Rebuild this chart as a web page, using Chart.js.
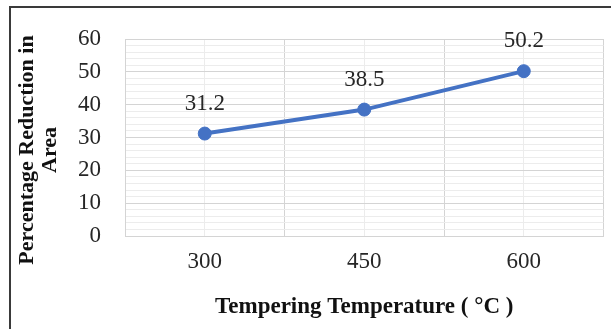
<!DOCTYPE html>
<html>
<head>
<meta charset="utf-8">
<script src="https://cdn.jsdelivr.net/npm/chart.js@4.4.0/dist/chart.umd.min.js"></script>
<style>
  html, body { margin: 0; padding: 0; background: #fff; overflow: hidden; }
  #wrap { position: relative; width: 611px; height: 329px; }
  #frame { position: absolute; left: 9px; top: 6px; width: 700px; height: 400px;
           border-left: 2px solid #3a3a3a; border-top: 2px solid #3a3a3a; pointer-events: none; }
  canvas { position: absolute; left: 0; top: 0; }
</style>
</head>
<body>
<div id="wrap">
  <canvas id="c" width="611" height="329"></canvas>
  <div id="frame"></div>
</div>
<script>
// Tempering temperatures (°C) and measured reduction in area (%)
const temperatures = [300, 450, 600];
const reductionInArea = [31.2, 38.5, 50.2];
const yTickLabels = [0, 10, 20, 30, 40, 50, 60];
const xAxisTitle = 'Tempering Temperature ( °C )';
const yAxisTitle = ['Percentage Reduction in', 'Area'];

const SERIF = '"Liberation Serif", "Times New Roman", serif';
const FONT_SIZE = 23;
const step = temperatures[1] - temperatures[0];
const Y_MINOR = 2;

// Value labels above each marker
const valueLabels = {
  id: 'valueLabels',
  afterDatasetsDraw(chart) {
    const ctx = chart.ctx;
    const meta = chart.getDatasetMeta(0);
    ctx.save();
    ctx.font = FONT_SIZE + 'px ' + SERIF;
    ctx.fillStyle = '#262626';
    ctx.textAlign = 'center';
    ctx.textBaseline = 'middle';
    meta.data.forEach((pt, i) => {
      ctx.fillText(String(reductionInArea[i]), pt.x, pt.y - 30);
    });
    ctx.restore();
  }
};

// Two-line rotated y-axis title
const yTitle = {
  id: 'yTitle',
  afterDraw(chart) {
    const ctx = chart.ctx;
    ctx.save();
    ctx.font = 'bold 22px ' + SERIF;
    ctx.fillStyle = '#111';
    ctx.textAlign = 'center';
    ctx.textBaseline = 'middle';
    const xs = [27, 50];
    yAxisTitle.forEach((line, i) => {
      ctx.save();
      ctx.translate(xs[i], 150);
      ctx.rotate(-Math.PI / 2);
      ctx.fillText(line, 0, 0);
      ctx.restore();
    });
    ctx.restore();
  }
};

new Chart(document.getElementById('c'), {
  type: 'line',
  data: {
    datasets: [{
      data: temperatures.map((t, i) => ({ x: t, y: reductionInArea[i] })),
      borderColor: '#4472C4',
      backgroundColor: '#4472C4',
      borderWidth: 4,
      pointRadius: 6.5,
      pointBorderWidth: 1,
      pointBackgroundColor: '#4472C4',
      pointBorderColor: '#4472C4',
      tension: 0
    }]
  },
  options: {
    responsive: false,
    animation: false,
    events: [],
    layout: { padding: { top: 39, right: 7, left: 0, bottom: 0 } },
    plugins: { legend: { display: false }, tooltip: { enabled: false } },
    scales: {
      x: {
        type: 'linear',
        min: temperatures[0] - step / 2,
        max: temperatures[temperatures.length - 1] + step / 2,
        afterBuildTicks(scale) {
          const ticks = [];
          for (let v = scale.min; v <= scale.max + 0.001; v += step / 2) ticks.push({ value: v });
          scale.ticks = ticks;
        },
        afterFit(scale) {
          scale.height = 93;
          scale.paddingLeft = 0;
          scale.paddingRight = 0;
        },
        grid: {
          drawTicks: false,
          color: (c) => temperatures.includes(c.tick.value) ? '#ececec' : '#d4d4d4',
          lineWidth: 1
        },
        border: { color: '#d4d4d4' },
        ticks: {
          padding: 12,
          maxRotation: 0,
          autoSkip: false,
          color: '#262626',
          font: { family: SERIF, size: FONT_SIZE },
          callback: (v) => temperatures.includes(v) ? String(v) : ''
        },
        title: {
          display: true,
          text: xAxisTitle,
          color: '#111',
          font: { family: SERIF, size: FONT_SIZE, weight: 'bold' },
          padding: { top: 0, bottom: 8 }
        }
      },
      y: {
        min: yTickLabels[0],
        max: yTickLabels[yTickLabels.length - 1],
        afterBuildTicks(scale) {
          const ticks = [];
          for (let v = scale.min; v <= scale.max + 0.001; v += Y_MINOR) ticks.push({ value: v });
          scale.ticks = ticks;
        },
        afterFit(scale) {
          scale.width = 125;
          scale.paddingTop = 0;
          scale.paddingBottom = 0;
        },
        ticks: {
          padding: 24,
          autoSkip: false,
          color: '#262626',
          font: { family: SERIF, size: FONT_SIZE },
          callback: (v) => yTickLabels.includes(v) ? String(v) : ''
        },
        grid: {
          drawTicks: false,
          color: (c) => c.tick.value % 10 === 0 ? '#d4d4d4' : '#ececec',
          lineWidth: 1
        },
        border: { color: '#d4d4d4' }
      }
    }
  },
  plugins: [valueLabels, yTitle]
});
</script>
</body>
</html>
